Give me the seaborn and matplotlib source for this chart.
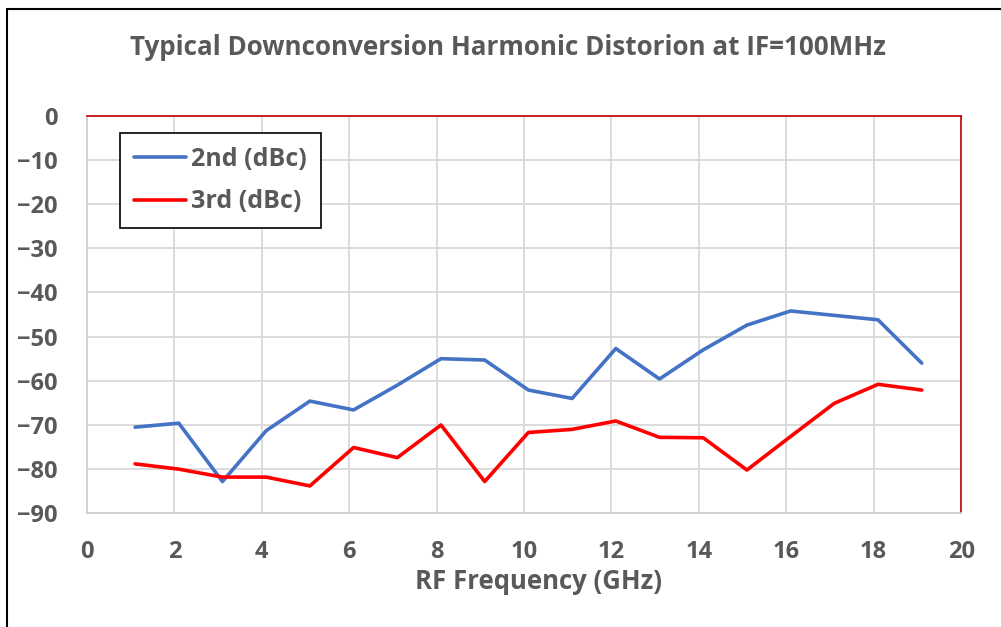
import numpy as np
import pandas as pd
import matplotlib
matplotlib.use("Agg")
import matplotlib.pyplot as plt
from matplotlib.lines import Line2D
import seaborn as sns

freq = [1.1, 2.1, 3.1, 4.1, 5.1, 6.1, 7.1, 8.1, 9.1, 10.1,
        11.1, 12.1, 13.1, 14.1, 15.1, 16.1, 17.1, 18.1, 19.1]
second = [-70.5, -69.6, -82.8, -71.3, -64.6, -66.6, -61.0, -55.0, -55.3, -62.1,
          -64.0, -52.7, -59.6, -53.0, -47.4, -44.2, -45.2, -46.2, -56.0]
third = [-78.8, -80.0, -81.8, -81.8, -83.8, -75.1, -77.4, -70.0, -82.8, -71.7,
         -71.0, -69.1, -72.8, -72.9, -80.2, -72.6, -65.1, -60.8, -62.1]
series_names = ["2nd (dBc)", "3rd (dBc)"]
x_ticks = list(range(0, 21, 2))
y_ticks = list(range(-90, 1, 10))
title = "Typical Downconversion Harmonic Distorion at IF=100MHz"
xlabel = "RF Frequency (GHz)"

df = pd.concat([
    pd.DataFrame({"freq": freq, "val": second, "series": series_names[0]}),
    pd.DataFrame({"freq": freq, "val": third, "series": series_names[1]}),
])

sns.set_theme(style="white")
plt.rcParams["font.family"] = ["Open Sans", "DejaVu Sans"]
gray = "#595959"

fig = plt.figure(figsize=(10.01, 6.27), dpi=100)
ax = fig.add_axes([0.0869, 0.1813, 0.8732, 0.6342])

sns.lineplot(data=df, x="freq", y="val", hue="series",
             palette={series_names[0]: "#4472C4", series_names[1]: "#FF0000"},
             linewidth=2.6, ax=ax, legend=False)

ax.set_xlim(0, 20)
ax.set_ylim(-90, 0)
ax.set_xticks(x_ticks)
ax.set_yticks(y_ticks)
ax.grid(True, color="#D9D9D9", linewidth=1.3)
ax.set_axisbelow(True)
ax.tick_params(axis="both", length=0, labelsize=17, labelcolor=gray)
ax.tick_params(axis="x", pad=19)
ax.tick_params(axis="y", pad=21)
for lab in ax.get_xticklabels() + ax.get_yticklabels():
    lab.set_fontweight("bold")

for side in ["top", "right"]:
    ax.spines[side].set_color("#C00000")
    ax.spines[side].set_linewidth(1.2)
for side in ["left", "bottom"]:
    ax.spines[side].set_color("#D0D0D0")
    ax.spines[side].set_linewidth(1.3)

ax.set_xlabel(xlabel, fontsize=18.5, fontweight="bold", color=gray, va="center")
ax.set_ylabel("")
ax.xaxis.set_label_coords(0.516, -0.172)

handles = [Line2D([], [], color="#4472C4", linewidth=2.6),
           Line2D([], [], color="#FF0000", linewidth=2.6)]
leg = ax.legend(handles, series_names, loc="upper left",
                bbox_to_anchor=(0.038, 0.956), borderaxespad=0,
                frameon=True, fancybox=False,
                edgecolor="black", framealpha=1, handlelength=2.1,
                handletextpad=0.2, borderpad=0.55, labelspacing=0.7,
                prop={"size": 18, "weight": "bold"})
leg.get_frame().set_linewidth(1.2)
for t in leg.get_texts():
    t.set_color(gray)

fig.text(0.507, 0.925, title, ha="center", va="center", fontsize=18.7,
         fontweight="bold", color=gray)

# outer frame lines (top and left)
fig.add_artist(Line2D([0.0065, 1.0], [0.986, 0.986], color="black", linewidth=1.5,
                      transform=fig.transFigure))
fig.add_artist(Line2D([0.0065, 0.0065], [0.0, 0.986], color="black", linewidth=1.5,
                      transform=fig.transFigure))

fig.savefig("out.png", dpi=100, facecolor="white")
